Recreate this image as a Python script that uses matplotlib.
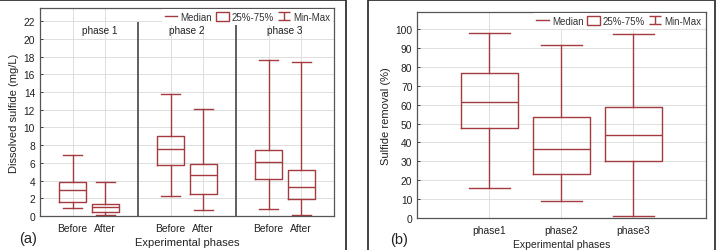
import matplotlib
matplotlib.use("Agg")
import matplotlib.pyplot as plt
from matplotlib.path import Path
from matplotlib.lines import Line2D
from matplotlib.patches import Rectangle

plt.rcParams['font.family'] = ['Liberation Sans', 'DejaVu Sans']

# ---- data panel (a): dissolved sulfide (mg/L)
a_labels = ["Before", "After", "Before", "After", "Before", "After"]
a_positions = [1, 2, 4, 5, 7, 8]
a_min = [0.87, 0.11, 2.23, 0.72, 0.83, 0.08]
a_q1 = [1.62, 0.49, 5.74, 2.53, 4.19, 1.92]
a_med = [2.98, 0.98, 7.58, 4.68, 6.11, 3.25]
a_q3 = [3.85, 1.32, 9.02, 5.92, 7.47, 5.21]
a_max = [6.94, 3.89, 13.74, 12.04, 17.62, 17.36]
a_phases = ["phase 1", "phase 2", "phase 3"]

# ---- data panel (b): sulfide removal (%)
b_labels = ["phase1", "phase2", "phase3"]
b_positions = [1, 2, 3]
b_min = [16.1, 8.9, 1.2]
b_q1 = [47.4, 23.5, 30.4]
b_med = [61.2, 36.7, 43.9]
b_q3 = [76.7, 53.5, 58.8]
b_max = [97.7, 91.4, 97.2]

RED = '#a53b3f'
SPINE = '#555555'
GRID = '#dedede'

W, H = 720, 251
fig = plt.figure(figsize=(W / 100, H / 100), dpi=100)

def fx(px):
    return px / W

def fy(py):
    return 1 - py / H

# panel frames
fig.patches.append(Rectangle((fx(-2), fy(260)), fx(348), fy(0.8) - fy(260),
                             transform=fig.transFigure, fill=False,
                             edgecolor='#333333', linewidth=1.3))
fig.patches.append(Rectangle((fx(367.5), fy(260)), fx(715 - 367.5), fy(0.8) - fy(260),
                             transform=fig.transFigure, fill=False,
                             edgecolor='#333333', linewidth=1.3))

def make_stats(mins, q1s, meds, q3s, maxs):
    return [dict(whislo=a, q1=b, med=c, q3=d, whishi=e, fliers=[])
            for a, b, c, d, e in zip(mins, q1s, meds, q3s, maxs)]

ipath = Path([(-1, 0.75), (1, 0.75), (0, 0.75), (0, -0.75), (-1, -0.75), (1, -0.75)],
             [Path.MOVETO, Path.LINETO, Path.MOVETO, Path.LINETO, Path.MOVETO, Path.LINETO])

def style_axes(ax):
    for s in ax.spines.values():
        s.set_color(SPINE)
        s.set_linewidth(0.9)
    ax.grid(True, color=GRID, linewidth=0.7)
    ax.set_axisbelow(True)
    ax.tick_params(axis='both', labelsize=7.4, colors='#222222', length=2,
                   direction='in', width=0.6)
    ax.tick_params(axis='x', length=0, pad=5)

def add_legend(ax):
    handles = [
        Line2D([], [], color=RED, linewidth=1.0),
        Rectangle((0, 0), 1, 1, facecolor='white', edgecolor=RED, linewidth=1.0),
        Line2D([], [], color=RED, linestyle='none', marker=ipath,
               markersize=8, markeredgewidth=1.0, markerfacecolor='none'),
    ]
    leg = ax.legend(handles, ["Median", "25%-75%", "Min-Max"], ncol=3,
                    loc='upper right', bbox_to_anchor=(1.0, 1.0),
                    fontsize=7, frameon=True, framealpha=1, edgecolor='none',
                    fancybox=False, handlelength=1.3, handleheight=1.0,
                    handletextpad=0.3, columnspacing=0.4, borderpad=0.3,
                    borderaxespad=0.1)
    leg.get_frame().set_linewidth(0)
    for t in leg.get_texts():
        t.set_color('#333333')

props = dict(color=RED, linewidth=1.0)

# ---- panel (a)
axa = fig.add_axes([fx(40), fy(217), fx(334 - 40), fy(9) - fy(217)])
axa.bxp(make_stats(a_min, a_q1, a_med, a_q3, a_max), positions=a_positions,
        widths=0.82, capwidths=0.57, showfliers=False, patch_artist=False,
        boxprops=props, whiskerprops=props, capprops=props, medianprops=props,
        manage_ticks=False)
axa.set_xlim(0, 9)
axa.set_ylim(0, 23.5)
axa.set_yticks(range(0, 23, 2))
axa.set_xticks(a_positions)
axa.set_xticklabels(a_labels)
style_axes(axa)
axa.vlines([3, 6], 0, 21.9, color='#444444', linewidth=1.2, zorder=1)
for xp, name in zip([1.83, 4.5, 7.5], a_phases):
    axa.text(xp, 21.0, name, ha='center', va='center', fontsize=7.2, color='#222222')
axa.set_ylabel("Dissolved sulfide (mg/L)", fontsize=8, color='#222222', labelpad=3)
add_legend(axa)
fig.text(fx(187), fy(243), "Experimental phases", ha='center', va='center',
         fontsize=8, color='#222222')
fig.text(fx(28), fy(239), "(a)", ha='center', va='center', fontsize=10.5,
         color='#222222')

# ---- panel (b)
axb = fig.add_axes([fx(417.3), fy(219.3), fx(705.5 - 417.3), fy(12.7) - fy(219.3)])
axb.bxp(make_stats(b_min, b_q1, b_med, b_q3, b_max), positions=b_positions,
        widths=0.8, capwidths=0.57, showfliers=False, patch_artist=False,
        boxprops=props, whiskerprops=props, capprops=props, medianprops=props,
        manage_ticks=False)
axb.set_xlim(0, 4)
axb.set_ylim(0, 109)
axb.set_yticks(range(0, 101, 10))
axb.set_xticks(b_positions)
axb.set_xticklabels(b_labels)
style_axes(axb)
axb.set_ylabel("Sulfide removal (%)", fontsize=8, color='#222222', labelpad=3)
add_legend(axb)
fig.text(fx(562), fy(245), "Experimental phases", ha='center', va='center',
         fontsize=7.5, color='#222222')
fig.text(fx(399), fy(240), "(b)", ha='center', va='center', fontsize=10.5,
         color='#222222')

fig.savefig("out.png", dpi=100)
